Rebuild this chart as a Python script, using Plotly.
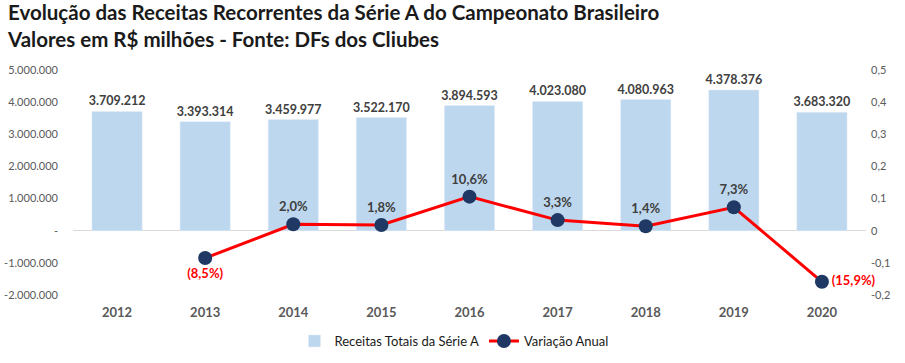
import plotly.graph_objects as go

anos = ["2012", "2013", "2014", "2015", "2016", "2017", "2018", "2019", "2020"]
receitas = [3709212, 3393314, 3459977, 3522170, 3894593, 4023080, 4080963, 4378376, 3683320]
variacao = [None, -0.085, 0.020, 0.018, 0.106, 0.033, 0.014, 0.073, -0.159]
left_ticks = [-2000000, -1000000, 0, 1000000, 2000000, 3000000, 4000000, 5000000]
left_tick_text = ["-2.000.000", "-1.000.000", "-", "1.000.000", "2.000.000", "3.000.000", "4.000.000", "5.000.000"]
right_ticks = [-0.2, -0.1, 0, 0.1, 0.2, 0.3, 0.4, 0.5]
right_tick_text = ["-0,2", "-0,1", "0", "0,1", "0,2", "0,3", "0,4", "0,5"]
titulo = "Evolução das Receitas Recorrentes da Série A do Campeonato Brasileiro<br>Valores em R$ milhões - Fonte: DFs dos Cliubes"

def fmt_int(v):
    return f"{v:,}".replace(",", ".")

def fmt_pct(v):
    s = f"{abs(v)*100:.1f}".replace(".", ",") + "%"
    return f"({s})" if v < 0 else s

bar_text = [fmt_int(v) for v in receitas]
line_text = ["" if v is None else fmt_pct(v) for v in variacao]
line_pos = []
line_col = []
for i, v in enumerate(variacao):
    if v is None:
        line_pos.append("top center"); line_col.append("#404040")
    elif v < 0 and i == len(variacao) - 1:
        line_pos.append("middle right"); line_col.append("#FF0000")
    elif v < 0:
        line_pos.append("bottom center"); line_col.append("#FF0000")
    else:
        line_pos.append("top center"); line_col.append("#404040")

W, H = 905, 363
L, R, T, B = 73, 39, 70, 68
pw, ph = W - L - R, H - T - B

fig = go.Figure()
fig.add_trace(go.Bar(
    x=anos, y=receitas, name="Receitas Totais da Série A",
    marker=dict(color="#BDD7EE"),
    text=bar_text, textposition="outside", cliponaxis=False, constraintext="none",
    textfont=dict(family="Lato", size=12.5, color="#404040", weight="bold"),
    width=0.57,
))
fig.add_trace(go.Scatter(
    x=anos, y=variacao, name="Variação Anual", yaxis="y2",
    mode="lines+markers+text",
    line=dict(color="#FF0000", width=3),
    marker=dict(color="#1F3864", size=14),
    text=line_text, textposition=line_pos, cliponaxis=False,
    textfont=dict(family="Lato", size=13, color=line_col, weight="bold"),
))

fig.update_layout(
    width=W, height=H,
    margin=dict(l=L, r=R, t=T, b=B, autoexpand=False),
    paper_bgcolor="white", plot_bgcolor="white",
    annotations=[dict(
        text=titulo, xref="paper", yref="paper",
        x=(5 - L) / pw, y=1 + (T + 2) / ph, xanchor="left", yanchor="top",
        align="left", showarrow=False,
        font=dict(family="Lato", size=20.5, color="#1a1a1a", weight="bold"),
    )],
    xaxis=dict(
        range=[-0.5, 8.5],
        showline=False, showgrid=False, ticks="", automargin=False,
        tickfont=dict(family="Lato", size=13, color="#595959", weight="bold"),
        ticklabelstandoff=8,
    ),
    yaxis=dict(
        range=[-2000000, 5000000], tickvals=left_ticks, ticktext=left_tick_text,
        showgrid=False, zeroline=True, zerolinecolor="#D9D9D9", zerolinewidth=1,
        tickfont=dict(family="Lato", size=11, color="#595959"),
        ticklabelstandoff=14, automargin=False,
    ),
    yaxis2=dict(
        range=[-0.2, 0.5], tickvals=right_ticks, ticktext=right_tick_text,
        overlaying="y", side="right", showgrid=False, zeroline=False,
        tickfont=dict(family="Lato", size=11, color="#595959"),
        ticklabelstandoff=4, automargin=False,
    ),
    legend=dict(
        orientation="h", x=(454 - L) / pw, xanchor="center",
        y=-(341 - (H - B)) / ph, yanchor="middle",
        font=dict(family="Lato", size=13, color="#1a1a1a"),
    ),
    showlegend=True,
)

fig.write_html("out.html", config={"displayModeBar": False},
               post_script="document.body.style.margin='0';")
